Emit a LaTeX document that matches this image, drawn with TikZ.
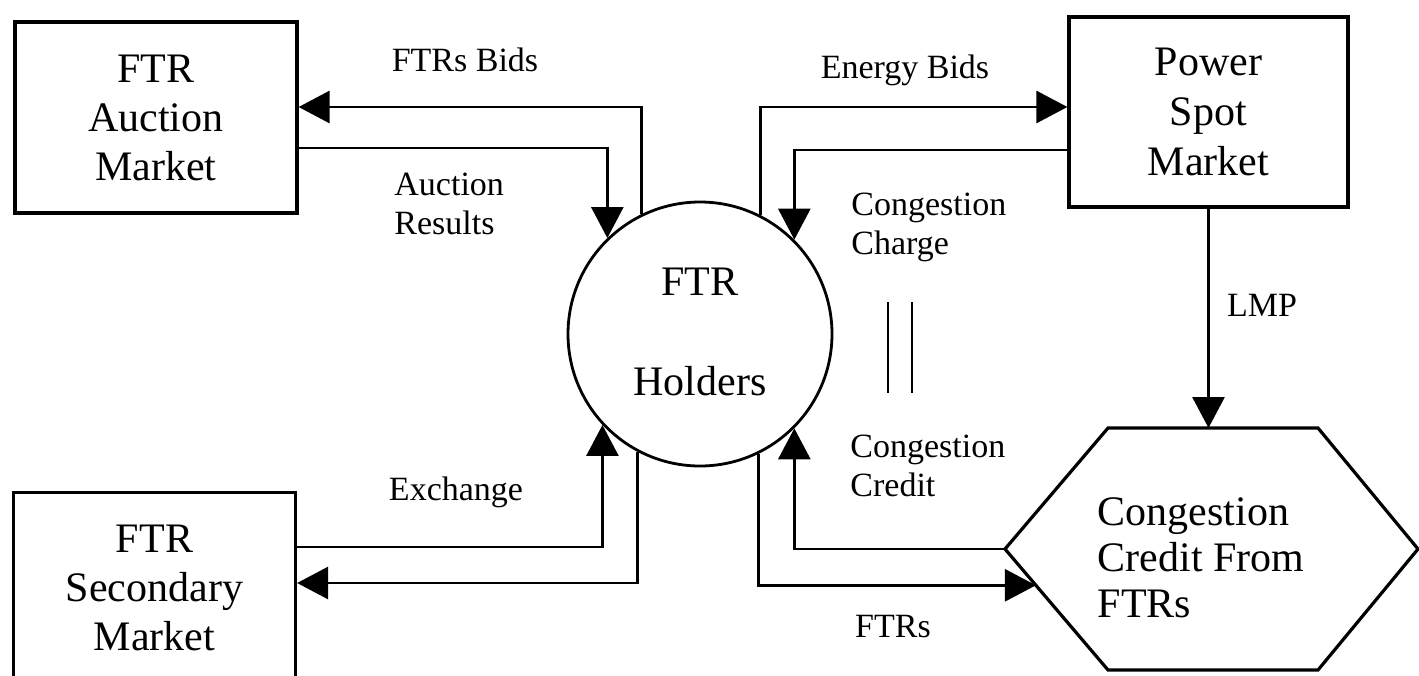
\documentclass[tikz,border=0pt]{standalone}
\usepackage{fontspec}
\setmainfont{Liberation Serif}
\usetikzlibrary{arrows.meta,calc,positioning}

\tikzset{
  market/.style={draw, line width=1.6pt, minimum width=141pt, minimum height=95.5pt,
    inner sep=0pt, align=center, font=\fontsize{21}{24.5}\selectfont},
  lbl/.style={inner sep=0pt, align=left, font=\fontsize{17}{19.5}\selectfont},
  flow/.style={line width=1.4pt, -{Triangle[length=15.5pt,width=16pt]}}
}

\begin{document}
\begin{tikzpicture}[x=0.5pt,y=-0.5pt]
  \useasboundingbox (0,0) rectangle (1419,675);

  % markets
  \node[market] (auction) at (156,117.5) {FTR\\Auction\\Market};
  \node[market, minimum width=139.5pt, minimum height=95pt,
    font=\fontsize{21}{25}\selectfont] (power) at (1208.5,112) {Power\\Spot\\Market};
  \node[market] (secondary) at (154.5,588) {FTR\\Secondary\\Market};

  % holders
  \node[draw, circle, line width=1.4pt, minimum size=132pt, inner sep=0pt, align=center,
    font=\fontsize{21}{50}\selectfont] (holders) at (700,334) {\raisebox{2pt}{FTR}\\\raisebox{2pt}{Holders}};

  % congestion credit hexagon
  \coordinate (hexL) at (1005,549);
  \coordinate (hexTL) at (1108,428);
  \coordinate (hexTR) at (1318,428);
  \coordinate (hexR) at (1418,549);
  \coordinate (hexBR) at (1318,670);
  \coordinate (hexBL) at (1108,670);
  \draw[line width=1.6pt] (hexL) -- (hexTL) -- (hexTR) -- (hexR) -- (hexBR) -- (hexBL) -- cycle;
  \node[inner sep=0pt, align=left, font=\fontsize{21}{23}\selectfont] (credit) at (1201,558) {Congestion\\Credit From\\FTRs};

  % auction flows
  \draw[flow] (holders.116) |- ($(auction.east)+(0,-10.5)$);
  \draw[flow] ($(auction.east)+(0,30.5)$) -| (holders.134);

  % spot market flows
  \draw[flow] (holders.63) |- ($(power.west)+(0,-5)$);
  \draw[flow] ($(power.west)+(0,38)$) -| (holders.45);
  \draw[flow] (power.south) -- (power.south |- hexTL);

  % secondary market flows
  \draw[flow] ($(secondary.east)+(0,-41)$) -| (holders.223);
  \draw[flow] (holders.242) |- ($(secondary.east)+(0,-5)$);

  % congestion credit flows
  \draw[flow] (hexL) -| (holders.315);
  \draw[flow] (holders.296) |- ($(hexL)!0.3!(hexBL)$);

  % equality bars
  \foreach \x in {888,912}
  \draw[line width=1.4pt] (\x,302) -- (\x,393);

  % labels
  \node[lbl] (bidsFTR) at (465,60) {FTRs Bids};
  \node[lbl, anchor=west] (results) at (394,204) {Auction\\Results};
  \node[lbl] (bidsEnergy) at (905,70) {Energy Bids};
  \node[lbl, anchor=west] (charge) at (851,227) {Congestion\\Charge};
  \node[lbl] (lmp) at (1262,305) {LMP};
  \node[lbl, anchor=west] (creditLbl) at (850,466) {Congestion\\Credit};
  \node[lbl] (ftrs) at (893,627) {FTRs};
  \node[lbl] (exchange) at (456,492) {Exchange};
\end{tikzpicture}
\end{document}
